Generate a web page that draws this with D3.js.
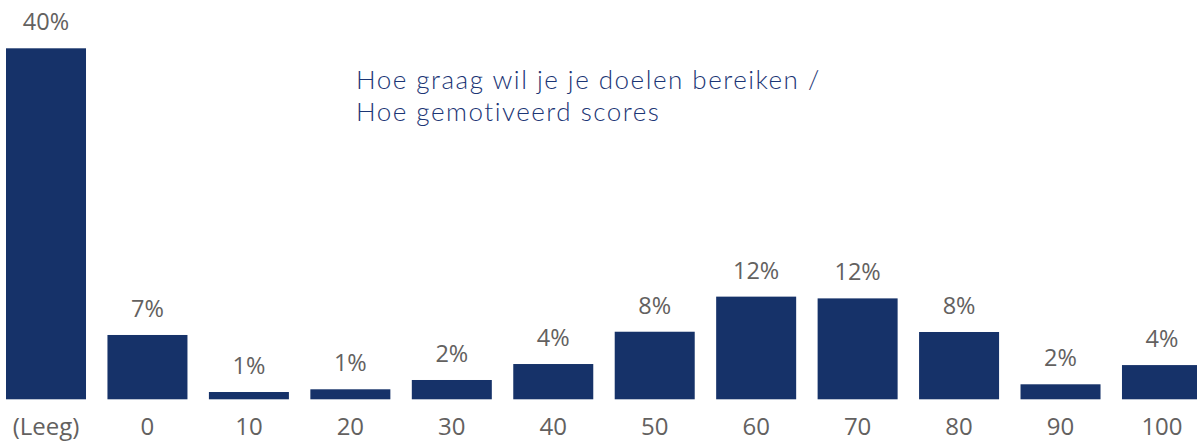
<!DOCTYPE html>
<html><head><meta charset="utf-8">
<script src="https://cdn.jsdelivr.net/npm/d3@7"></script>
<style>html,body{margin:0;padding:0;background:#fff;overflow:hidden}</style>
</head><body>
<svg id="chart" width="1197" height="441"></svg>
<script>
const categories = ["(Leeg)","0","10","20","30","40","50","60","70","80","90","100"];
const values = [40.0, 7.33, 0.83, 1.14, 2.2, 4.02, 7.7, 11.7, 11.5, 7.67, 1.71, 3.9];
const valueLabels = ["40%","7%","1%","1%","2%","4%","8%","12%","12%","8%","2%","4%"];
const titleLines = ["Hoe graag wil je je doelen bereiken /","Hoe gemotiveerd scores"];

const svg = d3.select("#chart");
const baseline = 399.3;
const x = d3.scaleBand().domain(categories).range([-4.72, 1212.7]).paddingInner(0.2114).paddingOuter(0.1057);
const y = d3.scaleLinear().domain([0, 40]).range([baseline, 48.3]);

svg.append("g").selectAll("rect").data(categories).join("rect")
  .attr("x", d => x(d)).attr("width", x.bandwidth())
  .attr("y", (d,i) => y(values[i])).attr("height", (d,i) => baseline - y(values[i]))
  .attr("fill", "#163269");

svg.append("g").selectAll("text").data(categories).join("text")
  .attr("x", d => x(d) + x.bandwidth()/2)
  .attr("y", (d,i) => y(values[i]) - 18)
  .attr("text-anchor", "middle")
  .attr("font-family", "Open Sans, sans-serif").attr("font-size", 23.5)
  .attr("fill", "#636160")
  .text((d,i) => valueLabels[i]);

const xAxis = d3.axisBottom(x).tickSize(0).tickPadding(0);
const gx = svg.append("g").attr("transform", `translate(0,${baseline})`).call(xAxis);
gx.select(".domain").remove();
gx.selectAll("text").attr("dy", null).attr("y", 36)
  .attr("font-family", "Open Sans, sans-serif").attr("font-size", 24).attr("fill", "#636160");

const t = svg.append("g").attr("font-family", "Lato, sans-serif").attr("font-weight", 300)
  .attr("letter-spacing", "1.5px").attr("fill", "#1b3575");
t.append("text").attr("x", 356).attr("y", 89).attr("font-size", 26).text(titleLines[0]);
t.append("text").attr("x", 356).attr("y", 121).attr("font-size", 26).text(titleLines[1]);
</script>
</body></html>
